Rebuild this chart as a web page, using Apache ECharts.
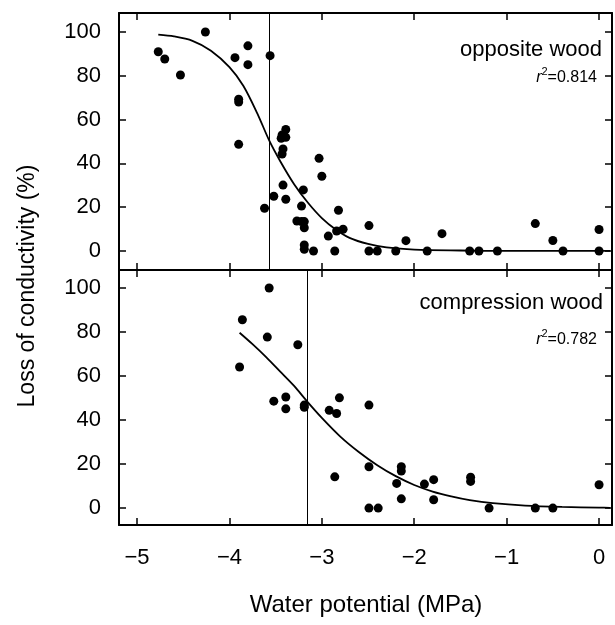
<!DOCTYPE html>
<html>
<head>
<meta charset="utf-8">
<script src="https://cdn.jsdelivr.net/npm/echarts@6/dist/echarts.min.js"></script>
<style>html,body{margin:0;padding:0;background:#fff;}#c{width:615px;height:625px;}</style>
</head>
<body>
<div id="c"></div>
<script>
// ---- data ----
const xTicks = [-5, -4, -3, -2, -1, 0];
const yTicks = [0, 20, 40, 60, 80, 100];

const oppositeX = [-4.77,-4.70,-4.53,-4.26,-3.94,-3.80,-3.80,-3.56,-3.90,-3.90,-3.90,-3.62,-3.52,-3.39,-3.43,-3.39,-3.44,-3.42,-3.43,-3.42,-3.39,-3.03,-3.00,-3.20,-3.22,-3.27,-3.22,-3.19,-3.19,-3.19,-3.19,-3.09,-2.86,-2.82,-2.93,-2.84,-2.77,-2.49,-2.49,-2.40,-2.20,-2.09,-1.86,-1.70,-1.40,-1.30,-1.10,-0.69,-0.50,-0.39,0.0,0.0];
const oppositeY = [91,87.7,80.4,100,88.3,93.7,85.1,89.2,69.3,68,48.7,19.5,25,55.5,53,51.9,51.5,46.6,44.3,30.1,23.6,42.3,34.1,27.9,20.5,13.7,13.4,13.4,10.6,2.7,0.8,0,0,18.6,6.8,9.1,9.9,11.6,0,0,0,4.7,0,7.9,0,0,0,12.5,4.8,0,9.8,0];

const oppositeCurveX = [-4.77,-4.6,-4.4,-4.2,-4.0,-3.85,-3.7,-3.57,-3.45,-3.3,-3.15,-3.0,-2.85,-2.7,-2.5,-2.3,-2.0,-1.5,-1.0,0.0,0.12];
const oppositeCurveY = [98.8,98,96,91.5,84,75.5,63,50.5,41,30.5,22,15,9.8,6,3.2,1.6,0.6,0.2,0,0,0];

const compressionX = [-3.57,-3.86,-3.59,-3.26,-3.89,-3.52,-3.39,-3.39,-3.19,-3.19,-2.81,-2.92,-2.84,-2.49,-2.49,-2.86,-2.49,-2.39,-2.19,-2.14,-2.14,-2.14,-1.89,-1.79,-1.79,-1.39,-1.39,-1.19,-0.69,-0.50,0.0];
const compressionY = [100,85.6,77.7,74.2,64.1,48.6,50.5,45.1,46.8,45.8,50.1,44.4,43,46.8,18.8,14.2,0,0,11.2,18.8,16.8,4.2,10.9,12.9,3.8,14,12.1,0,0,0,10.6];

const compressionCurveX = [-3.89,-3.75,-3.6,-3.45,-3.3,-3.16,-3.0,-2.8,-2.6,-2.4,-2.2,-2.0,-1.8,-1.6,-1.4,-1.15,-0.8,-0.4,0.0,0.12];
const compressionCurveY = [79.7,74.5,68.5,62,55.5,48.5,41,32.5,25.5,19.5,14.5,10.5,7.5,5.3,3.6,2.2,1.1,0.5,0.2,0.1];

const p50 = [-3.57, -3.16];
const panelNames = ['opposite wood', 'compression wood'];
const r2 = ['0.814', '0.782'];

// ---- chart ----
const FONT = '"Liberation Sans", Arial, Helvetica, sans-serif';
const zip = (a, b) => a.map((v, i) => [v, b[i]]);
const minus = v => (v < 0 ? '\u2212' + Math.abs(v) : String(v));

const XMIN = -5.195, XMAX = 0.14;
const lineStyle = { color: '#000', width: 2 };

function xAxis(grid, pos, labels) {
  return {
    type: 'value', gridIndex: grid, position: pos, min: XMIN, max: XMAX,
    axisLine: { show: true, onZero: false, lineStyle },
    axisTick: { show: true, inside: true, length: 7, customValues: xTicks, lineStyle: { color: '#000', width: 1.5 } },
    axisLabel: { show: labels, customValues: xTicks, formatter: minus, margin: 22, color: '#000', fontSize: 22, fontFamily: FONT },
    splitLine: { show: false }
  };
}
function yAxis(grid, pos, labels, min, max) {
  return {
    type: 'value', gridIndex: grid, position: pos, min, max,
    axisLine: { show: true, onZero: false, lineStyle },
    axisTick: { show: true, inside: true, length: 7, customValues: yTicks, lineStyle: { color: '#000', width: 1.5 } },
    axisLabel: { show: labels, customValues: yTicks, margin: 18, color: '#000', fontSize: 22, fontFamily: FONT },
    splitLine: { show: false }
  };
}
function curve(xi, yi, xs, ys, vline) {
  return {
    type: 'line', xAxisIndex: xi, yAxisIndex: yi, data: zip(xs, ys), smooth: 0.3,
    showSymbol: false, lineStyle: { color: '#000', width: 1.8 }, z: 3,
    markLine: {
      silent: true, symbol: 'none', label: { show: false },
      lineStyle: { color: '#000', width: 1, type: 'solid' },
      data: [{ xAxis: vline }]
    }
  };
}
function dots(xi, yi, xs, ys) {
  return {
    type: 'scatter', xAxisIndex: xi, yAxisIndex: yi, data: zip(xs, ys),
    symbol: 'circle', symbolSize: 9, itemStyle: { color: '#000', opacity: 1 }, z: 4
  };
}
function label(text, x, y, size) {
  return { type: 'text', x, y, style: { text, fill: '#000', fontSize: size, fontFamily: FONT, textAlign: 'right', textVerticalAlign: 'middle' } };
}
function r2label(val, x, y) {
  return {
    type: 'text', x, y,
    style: {
      text: '{i|r}{s|2}{n|=' + val + '}', fontFamily: FONT, textAlign: 'right', textVerticalAlign: 'middle',
      rich: {
        i: { fontStyle: 'italic', fontSize: 16, fill: '#000', fontFamily: FONT, lineHeight: 20, verticalAlign: 'bottom' },
        s: { fontSize: 11, fill: '#000', fontFamily: FONT, lineHeight: 20, verticalAlign: 'top' },
        n: { fontSize: 16, fill: '#000', fontFamily: FONT, lineHeight: 20, verticalAlign: 'bottom' }
      }
    }
  };
}

const chart = echarts.init(document.getElementById('c'), null, { renderer: 'canvas' });
chart.setOption({
  animation: false,
  backgroundColor: '#fff',
  grid: [
    { left: 119, top: 13, width: 493, height: 257 },
    { left: 119, top: 270, width: 493, height: 255 }
  ],
  xAxis: [xAxis(0, 'bottom', false), xAxis(0, 'top', false), xAxis(1, 'top', false), xAxis(1, 'bottom', true)],
  yAxis: [yAxis(0, 'left', true, -8.7, 108.7), yAxis(0, 'right', false, -8.7, 108.7),
          yAxis(1, 'left', true, -7.7, 108.2), yAxis(1, 'right', false, -7.7, 108.2)],
  series: [
    curve(0, 0, oppositeCurveX, oppositeCurveY, p50[0]),
    dots(0, 0, oppositeX, oppositeY),
    curve(3, 2, compressionCurveX, compressionCurveY, p50[1]),
    dots(3, 2, compressionX, compressionY)
  ],
  graphic: [
    label(panelNames[0], 602, 50, 22),
    r2label(r2[0], 597, 76),
    label(panelNames[1], 603, 303, 22),
    r2label(r2[1], 597, 338),
    { type: 'text', x: 366, y: 605, style: { text: 'Water potential (MPa)', fill: '#000', fontSize: 24, fontFamily: FONT, textAlign: 'center', textVerticalAlign: 'middle' } },
    { type: 'text', x: 28, y: 286, rotation: Math.PI / 2, style: { text: 'Loss of conductivity (%)', fill: '#000', fontSize: 23, fontFamily: FONT, textAlign: 'center', textVerticalAlign: 'middle' } }
  ]
});
</script>
</body>
</html>
